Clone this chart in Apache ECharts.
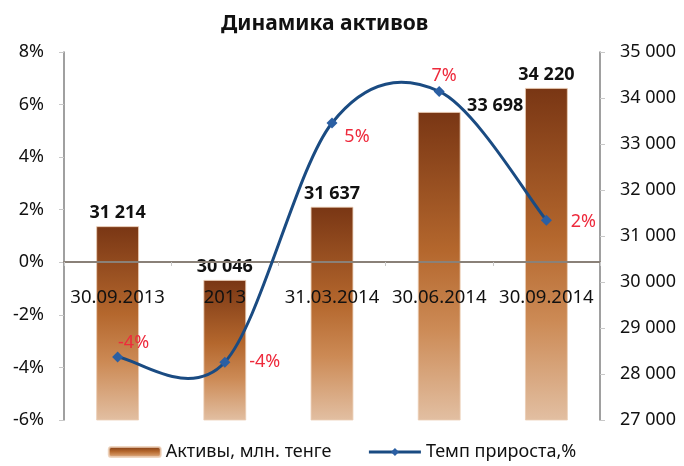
<!DOCTYPE html>
<html><head><meta charset="utf-8">
<script src="https://cdn.jsdelivr.net/npm/echarts@6/dist/echarts.min.js"></script>
<style>html,body{margin:0;padding:0;background:#fff}#c{width:684px;height:466px}</style>
</head><body><div id="c"></div>
<script>
var categories = ["30.09.2013", "2013", "31.03.2014", "30.06.2014", "30.09.2014"];
var assets = [31214, 30046, 31637, 33698, 34220];
var growth = [-3.6, -3.8, 5.3, 6.5, 1.6];
var growthLabels = ["-4%", "-4%", "5%", "7%", "2%"];
var seriesNames = ["Активы, млн. тенге", "Темп прироста,%"];
var titleText = "Динамика активов";

var FONT = "Noto Sans";
var LINE_COLOR = '#1a4b82';
var growthLabelOffsets = [[16, -14], [40, 0], [25, 14], [5, -16], [37, 2]];
var assetLabelOffsets = [[0, 0], [0, 0], [0, 0], [56, 7], [0, 0]];

function fmtThousands(v) {
  return String(v).replace(/\B(?=(\d{3})+(?!\d))/g, " ");
}

// Excel-like smoothed curve through the data points, positioned via the axes
function renderCurve(params, api) {
  if (params.dataIndex !== 0) return null;
  var pts = growth.map(function (v, i) { return api.coord([i, v]); });
  var n = pts.length, k = 1 / 6;
  var d = 'M' + pts[0][0] + ' ' + pts[0][1];
  for (var i = 0; i < n - 1; i++) {
    var p0 = pts[Math.max(i - 1, 0)], p1 = pts[i], p2 = pts[i + 1], p3 = pts[Math.min(i + 2, n - 1)];
    var c1x = p1[0] + (p2[0] - p0[0]) * k, c1y = p1[1] + (p2[1] - p0[1]) * k;
    var c2x = p2[0] - (p3[0] - p1[0]) * k, c2y = p2[1] - (p3[1] - p1[1]) * k;
    d += ' C' + c1x + ' ' + c1y + ' ' + c2x + ' ' + c2y + ' ' + p2[0] + ' ' + p2[1];
  }
  return {
    type: 'path', shape: {pathData: d},
    style: {stroke: LINE_COLOR, lineWidth: 3, fill: null}
  };
}

var chart = echarts.init(document.getElementById('c'), null, {renderer: 'canvas'});
chart.setOption({
  animation: false,
  backgroundColor: '#fff',
  title: {
    text: titleText, left: 216, top: 9,
    textStyle: {fontFamily: FONT, fontSize: 21, fontWeight: 'bold', color: '#111'}
  },
  grid: {left: 64, right: 84, top: 52, bottom: 46},
  legend: {
    bottom: 0, left: 'center', itemGap: 36, itemWidth: 52, itemHeight: 10,
    textStyle: {fontFamily: FONT, fontSize: 18, color: '#111'},
    data: [
      {name: seriesNames[0]},
      {name: seriesNames[1], lineStyle: {color: LINE_COLOR, width: 3, opacity: 1}}
    ]
  },
  xAxis: {
    type: 'category', data: categories, z: 5,
    offset: -158,
    axisLine: {onZero: false, lineStyle: {color: '#8a8178', width: 2}},
    axisTick: {show: true, length: 4, lineStyle: {color: '#c8c8c8'}},
    axisLabel: {fontFamily: FONT, fontSize: 18.5, color: '#111', margin: 26, interval: 0, hideOverlap: false}
  },
  yAxis: [
    {
      type: 'value', min: -6, max: 8, interval: 2, position: 'left',
      axisLine: {show: true, lineStyle: {color: '#808080', width: 1.5}},
      axisTick: {show: true, inside: false, length: 5, lineStyle: {color: '#c8c8c8'}},
      splitLine: {show: false},
      axisLabel: {fontFamily: FONT, fontSize: 18, color: '#111', margin: 20, formatter: '{value}%'}
    },
    {
      type: 'value', min: 27000, max: 35000, interval: 1000, position: 'right',
      axisLine: {show: true, lineStyle: {color: '#808080', width: 1.5}},
      axisTick: {show: true, length: 5, lineStyle: {color: '#c8c8c8'}},
      splitLine: {show: false},
      axisLabel: {fontFamily: FONT, fontSize: 18, color: '#111', margin: 20, formatter: function (v) { return fmtThousands(v); }}
    }
  ],
  series: [
    {
      name: seriesNames[0], type: 'bar', yAxisIndex: 1, barWidth: '40%', z: 2,
      itemStyle: {
        color: new echarts.graphic.LinearGradient(0, 0, 0, 1, [
          {offset: 0, color: '#793614'},
          {offset: 0.45, color: '#b4672d'},
          {offset: 0.7, color: '#cc8a55'},
          {offset: 1, color: '#e2bfa2'}
        ]),
        borderColor: 'rgba(235,205,180,0.8)', borderWidth: 1
      },
      data: assets.map(function (v, i) {
        return {
          value: v,
          label: {
            show: true, position: 'top', distance: 4, offset: assetLabelOffsets[i],
            fontFamily: FONT, fontSize: 18, fontWeight: 'bold', color: '#111',
            formatter: function (p) { return fmtThousands(p.value); }
          }
        };
      })
    },
    {
      type: 'custom', yAxisIndex: 0, z: 6, silent: true,
      renderItem: renderCurve,
      data: growth.map(function (v, i) { return [i, v]; })
    },
    {
      name: seriesNames[1], type: 'line', yAxisIndex: 0, z: 7,
      symbol: 'diamond', symbolSize: 11,
      lineStyle: {color: LINE_COLOR, width: 0, opacity: 0},
      itemStyle: {color: '#2b5fa3'},
      data: growth.map(function (v, i) {
        return {
          value: v,
          label: {
            show: true, position: 'inside', offset: growthLabelOffsets[i],
            fontFamily: FONT, fontSize: 18, color: '#ee2a3c',
            formatter: function () { return growthLabels[i]; }
          }
        };
      })
    }
  ]
});
</script></body></html>
